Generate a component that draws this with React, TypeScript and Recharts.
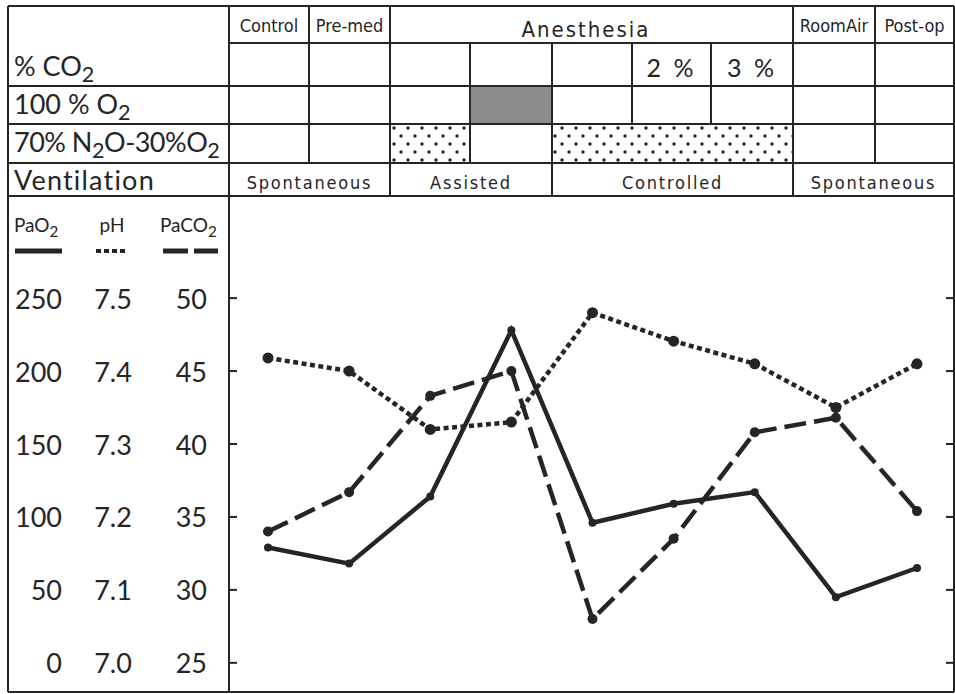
import { LineChart, Line, XAxis, YAxis } from "recharts";

// stages along the x axis (one per table column)
const stages = ["Control", "Pre-med", "Anes 1", "Anes 2", "Anes 3", "Anes 2%", "Anes 3%", "Room Air", "Post-op"];

// series values
const pao2 = [79, 68, 114, 228, 96, 109, 117, 45, 65];
const ph = [7.418, 7.4, 7.32, 7.33, 7.48, 7.441, 7.41, 7.35, 7.41];
const paco2 = [34, 36.7, 43.3, 45, 28, 33.5, 40.8, 41.8, 35.4];

const pao2Ticks = [0, 50, 100, 150, 200, 250];
const phTicks = [7.0, 7.1, 7.2, 7.3, 7.4, 7.5];
const paco2Ticks = [25, 30, 35, 40, 45, 50];

// table text
const headerCells = ["Control", "Pre-med", "Anesthesia", "RoomAir", "Post-op"];
const co2Cells = ["2 %", "3 %"];
const ventCells = ["Spontaneous", "Assisted", "Controlled", "Spontaneous"];

const rows = stages.map((s, i) => ({ stage: s, pao2: pao2[i], ph: ph[i], paco2: paco2[i] }));

const INK = "#252525";
const NUM_FONT = "Lato, 'Open Sans', sans-serif";
const TBL_FONT = "'DejaVu Sans Condensed', 'DejaVu Sans', sans-serif";

const L = 8, R = 954, T = 6, B = 692;
const X = [229, 309, 390, 470, 552, 632, 711, 793, 875, 954];
const Y = [6, 43, 86, 124, 163, 196];

const mid = (a: number, b: number) => (a + b) / 2;

const Table = () => {
  const h: [number, number, number][] = [
    [L, R, T], [X[0], R, Y[1]], [L, R, Y[2]], [L, R, Y[3]], [L, R, Y[4]], [L, R, Y[5]], [L, R, B],
  ];
  const v: [number, number, number][] = [
    [L, T, B], [R, T, B], [X[0], T, B],
    [X[1], T, Y[4]], [X[2], T, Y[5]], [X[3], Y[1], Y[4]], [X[4], Y[1], Y[5]],
    [X[5], Y[1], Y[3]], [X[6], Y[1], Y[3]], [X[7], T, Y[5]], [X[8], T, Y[4]],
  ];
  const hdrSpans = [[0, 1], [1, 2], [2, 7], [7, 8], [8, 9]];
  const ventSpans = [[0, 2], [2, 4], [4, 7], [7, 9]];
  return (
    <svg width={955} height={694} style={{ position: "absolute", left: 0, top: 0 }}>
      <defs>
        <pattern id="dots" width={14} height={16} patternUnits="userSpaceOnUse" x={X[2]} y={Y[3]}>
          <circle cx={4} cy={4} r={1.7} fill={INK} />
          <circle cx={11} cy={12} r={1.7} fill={INK} />
        </pattern>
      </defs>
      <rect x={X[3]} y={Y[2]} width={X[4] - X[3]} height={Y[3] - Y[2]} fill="#8c8c8c" />
      <rect x={X[2]} y={Y[3]} width={X[3] - X[2]} height={Y[4] - Y[3]} fill="url(#dots)" />
      <rect x={X[4]} y={Y[3]} width={X[7] - X[4]} height={Y[4] - Y[3]} fill="url(#dots)" />
      {h.map(([x1, x2, y], i) => (
        <line key={"h" + i} x1={x1} x2={x2} y1={y} y2={y} stroke={INK} strokeWidth={2} />
      ))}
      {v.map(([x, y1, y2], i) => (
        <line key={"v" + i} x1={x} x2={x} y1={y1} y2={y2} stroke={INK} strokeWidth={2} />
      ))}
      <g fill={INK} fontFamily={TBL_FONT}>
        {headerCells.map((t, i) => {
          const [a, b] = hdrSpans[i];
          const big = t === "Anesthesia";
          return (
            <text key={t} x={big ? 586 : mid(X[a], X[b])} y={big ? 29 : 25} textAnchor="middle"
              dominantBaseline="central" fontSize={big ? 22 : 18} letterSpacing={big ? 2 : 0}>
              {t}
            </text>
          );
        })}
        {co2Cells.map((t, i) => (
          <text key={t} x={mid(X[5 + i], X[6 + i])} y={67} textAnchor="middle" dominantBaseline="central"
            fontSize={25} letterSpacing={3} fontFamily={NUM_FONT}>
            {t}
          </text>
        ))}
        {ventCells.map((t, i) => {
          const [a, b] = ventSpans[i];
          return (
            <text key={i} x={mid(X[a], X[b])} y={182} textAnchor="middle" dominantBaseline="central"
              fontSize={18} letterSpacing={1.8}>
              {t}
            </text>
          );
        })}
      </g>
      <g fill={INK} fontFamily={NUM_FONT} fontSize={27}>
        <text x={14} y={76}>% CO<tspan dy={6} fontSize="0.8em">2</tspan></text>
        <text x={14} y={114}>100 % O<tspan dy={6} fontSize="0.8em">2</tspan></text>
        <text x={14} y={152} letterSpacing={-0.5}>
          70% N<tspan dy={6} fontSize="0.8em">2</tspan>
          <tspan dy={-6}>O-30%O</tspan>
          <tspan dy={6} fontSize="0.8em">2</tspan>
        </text>
        <text x={14} y={190} letterSpacing={1.2}>Ventilation</text>
      </g>
      <g fill={INK} fontFamily={NUM_FONT} fontSize={19}>
        <text x={14} y={232}>PaO<tspan dy={5} fontSize="0.8em">2</tspan></text>
        <text x={112} y={232} textAnchor="middle">pH</text>
        <text x={160} y={232}>PaCO<tspan dy={5} fontSize="0.8em">2</tspan></text>
      </g>
      <line x1={15} x2={62} y1={251} y2={251} stroke={INK} strokeWidth={5} />
      <line x1={96} x2={128} y1={251} y2={251} stroke={INK} strokeWidth={4} strokeDasharray="5 3" />
      <line x1={163} x2={218} y1={251} y2={251} stroke={INK} strokeWidth={5} strokeDasharray="25 6" />
    </svg>
  );
};

const makeTick = (x: number, anchor: string, fmt: (v: number) => string, marks?: boolean) =>
  (p: any) => (
    <g>
      {marks && (
        <>
          <line x1={230} x2={237} y1={p.y} y2={p.y} stroke={INK} strokeWidth={2} />
          <line x1={946} x2={953} y1={p.y} y2={p.y} stroke={INK} strokeWidth={2} />
        </>
      )}
      <text x={x} y={p.y} textAnchor={anchor} dominantBaseline="central" fontSize={27}
        fontFamily={NUM_FONT} fill={INK}>
        {fmt(p.payload.value)}
      </text>
    </g>
  );

export default function App() {
  return (
    <div style={{ position: "relative", width: 955, height: 694, background: "#fff", overflow: "hidden" }}>
      <style>{"body{margin:0}"}</style>
      <Table />
      <LineChart width={955} height={694} data={rows} margin={{ top: 196, right: 0, bottom: 2, left: 225 }}
        style={{ position: "absolute", left: 0, top: 0 }}>
        <XAxis dataKey="stage" hide padding={{ left: 40, right: 38 }} />
        <YAxis yAxisId="pao2" width={1} domain={[-20, 320]} ticks={pao2Ticks} allowDataOverflow
          axisLine={false} tickLine={false} tick={makeTick(62, "end", (v) => String(v))} />
        <YAxis yAxisId="ph" width={1} domain={[6.96, 7.64]} ticks={phTicks} allowDataOverflow
          axisLine={false} tickLine={false} tick={makeTick(113, "middle", (v) => v.toFixed(1))} />
        <YAxis yAxisId="paco2" width={1} domain={[23, 57]} ticks={paco2Ticks} allowDataOverflow
          axisLine={false} tickLine={false} tick={makeTick(207, "end", (v) => String(v), true)} />
        <Line yAxisId="pao2" dataKey="pao2" type="linear" stroke={INK} strokeWidth={4.5}
          dot={{ r: 4, fill: INK, stroke: INK, strokeWidth: 0 }} isAnimationActive={false} />
        <Line yAxisId="ph" dataKey="ph" type="linear" stroke={INK} strokeWidth={4.5} strokeDasharray="5 3.5"
          dot={{ r: 5.5, fill: INK, stroke: INK, strokeWidth: 0, strokeDasharray: "0" }} isAnimationActive={false} />
        <Line yAxisId="paco2" dataKey="paco2" type="linear" stroke={INK} strokeWidth={4.5} strokeDasharray="22 8"
          dot={{ r: 5, fill: INK, stroke: INK, strokeWidth: 0, strokeDasharray: "0" }} isAnimationActive={false} />
      </LineChart>
    </div>
  );
}
